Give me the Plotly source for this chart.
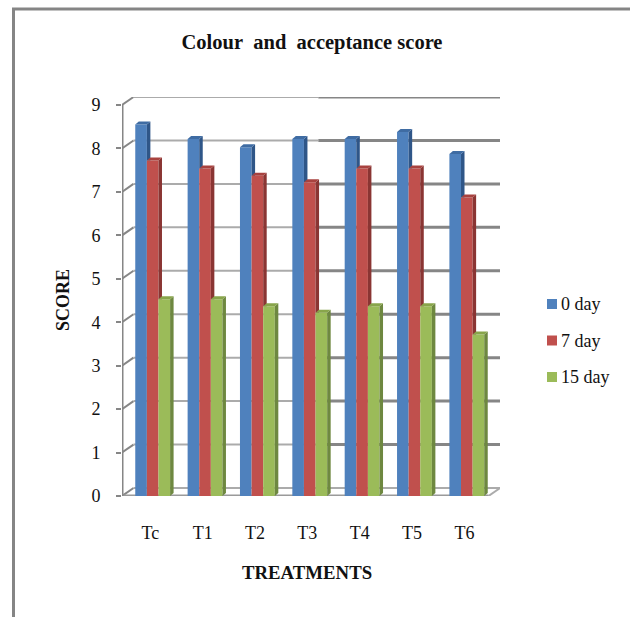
import plotly.graph_objects as go

categories = ['Tc', 'T1', 'T2', 'T3', 'T4', 'T5', 'T6']
day_0 = [8.55, 8.22, 8.03, 8.22, 8.22, 8.38, 7.87]
day_7 = [7.72, 7.54, 7.37, 7.22, 7.54, 7.54, 6.87]
day_15 = [4.53, 4.53, 4.37, 4.22, 4.37, 4.37, 3.72]
series_names = ['0 day', '7 day', '15 day']
score_ticks = [0, 1, 2, 3, 4, 5, 6, 7, 8, 9]

FONT = 'Liberation Serif'
GRID = '#868686'
FRONT = ['#4F81BD', '#C0504D', '#9BBB59']
SIDE = ['#2F5688', '#8A3533', '#6E8840']
TOP = ['#3F6CA3', '#A8423F', '#88A54B']

# pixel scale of the plot, used to express the fake 3d depth in data units
PX_X = 52.3
PX_Y = 43.5
WALL_DX = 11.5 / PX_X
WALL_DY = 8 / PX_Y
BAR_W = 11.6 / PX_X
BAR_DX = 3.5 / PX_X
BAR_DY = 3 / PX_Y
GROUP_SHIFT = 4.5 / PX_X

series = [day_0, day_7, day_15]
xpos = list(range(len(categories)))
fig = go.Figure()

# back wall, floor and axis lines sit behind the bars
shapes = []


def line(x0, y0, x1, y1, color=GRID, width=2):
    shapes.append(dict(type='line', xref='x', yref='y', x0=x0, y0=y0, x1=x1, y1=y1,
                       layer='below', line=dict(color=color, width=width)))


left = -0.5
right = len(categories) - 0.5
split = 3.25  # the grid looks fainter left of this point
for t in score_ticks:
    line(left, t, left + WALL_DX, t + WALL_DY)
    if t > 0:
        line(left + WALL_DX, t + WALL_DY, split, t + WALL_DY, '#ababab', 2)
        line(split, t + WALL_DY, right + WALL_DX, t + WALL_DY, GRID, 3)
line(left + WALL_DX, WALL_DY, right + WALL_DX, WALL_DY, '#ababab', 2)
line(right, 0, right + WALL_DX, WALL_DY, '#ababab', 2)
line(left, 0, right, 0, '#9a9a9a', 3)
line(left, 0, left, score_ticks[-1], GRID, 3)

# front faces
for s, values in enumerate(series):
    fig.add_trace(go.Bar(
        x=[i + GROUP_SHIFT + (s - 1) * BAR_W for i in xpos],
        y=values,
        width=BAR_W,
        name=series_names[s],
        marker=dict(color=FRONT[s], line=dict(width=0)),
        showlegend=False
    ))

# side and top faces; a side stops where the next series hides it
for s, values in enumerate(series):
    for i in xpos:
        x1 = i + GROUP_SHIFT + (s - 1) * BAR_W + BAR_W / 2
        x0 = x1 - BAR_W
        v = values[i]
        if s < 2:
            low = series[s + 1][i]
            side_y = [low, low, v + BAR_DY, v, low]
        else:
            side_y = [0, BAR_DY, v + BAR_DY, v, 0]
        fig.add_trace(go.Scatter(
            x=[x1, x1 + BAR_DX, x1 + BAR_DX, x1, x1],
            y=side_y,
            mode='lines', fill='toself', fillcolor=SIDE[s],
            line=dict(width=0), hoverinfo='skip', showlegend=False
        ))
        fig.add_trace(go.Scatter(
            x=[x0, x0 + BAR_DX, x1 + BAR_DX, x1, x0],
            y=[v, v + BAR_DY, v + BAR_DY, v, v],
            mode='lines', fill='toself', fillcolor=TOP[s],
            line=dict(width=0), hoverinfo='skip', showlegend=False
        ))

# legend drawn by hand so the swatch sits tight against its label
annotations = []
PLOT_L, PLOT_T, PLOT_W, PLOT_H = 122, 97, 378, 399


def px(x):
    return (x - PLOT_L) / PLOT_W


def py(y):
    return 1 - (y - PLOT_T) / PLOT_H


for s, name in enumerate(series_names):
    cy = 304 + s * 36.5
    shapes.append(dict(type='rect', xref='paper', yref='paper',
                       x0=px(547), x1=px(557), y0=py(cy - 5), y1=py(cy + 5),
                       fillcolor=FRONT[s], line=dict(width=0)))
    annotations.append(dict(xref='paper', yref='paper', x=px(559), y=py(cy), text=name,
                            xanchor='left', yanchor='middle', showarrow=False,
                            font=dict(family=FONT, size=18, color='#111111')))

# frame of the pasted chart, open on the right and at the bottom
for x0, y0, x1, y1 in [(13.5, 9, 13.5, 617), (12, 9, 630, 9)]:
    shapes.append(dict(type='line', xref='paper', yref='paper',
                       x0=px(x0), y0=py(y0), x1=px(x1), y1=py(y1),
                       line=dict(color='#858585', width=3)))
annotations.append(dict(xref='paper', yref='paper', x=px(63), y=py(300), text='SCORE',
                        textangle=-90, showarrow=False, xanchor='center', yanchor='middle',
                        font=dict(family=FONT, size=18, color='#111111', weight='bold')))
annotations.append(dict(xref='paper', yref='paper', x=px(307), y=py(572), text='TREATMENTS',
                        showarrow=False, xanchor='center', yanchor='middle',
                        font=dict(family=FONT, size=18.8, color='#111111', weight='bold')))

fig.update_layout(
    width=630,
    height=617,
    margin=dict(l=PLOT_L, t=PLOT_T, r=630 - PLOT_L - PLOT_W, b=617 - PLOT_T - PLOT_H, autoexpand=False),
    paper_bgcolor='white',
    plot_bgcolor='white',
    barmode='overlay',
    showlegend=False,
    title=dict(text='Colour\u00a0 and\u00a0 acceptance score', x=312 / 630, xanchor='center',
               y=1 - 42 / 617, yanchor='middle',
               font=dict(family=FONT, size=20.5, color='#111111', weight='bold')),
    shapes=shapes,
    annotations=annotations,
    xaxis=dict(
        range=[left, right + WALL_DX],
        tickmode='array', tickvals=[i + 0.04 for i in xpos], ticktext=categories,
        showgrid=False, zeroline=False, showline=False, ticks='',
        ticklabelstandoff=24,
        tickfont=dict(family=FONT, size=18, color='#111111')
    ),
    yaxis=dict(
        range=[0, score_ticks[-1] + WALL_DY],
        tickmode='array', tickvals=score_ticks,
        showgrid=False, zeroline=False, showline=False,
        ticks='outside', ticklen=5, tickwidth=2, tickcolor=GRID,
        ticklabelstandoff=12,
        tickfont=dict(family=FONT, size=18, color='#111111')
    )
)

fig.write_html("out.html", config=dict(displayModeBar=False),
               post_script="document.body.style.margin='0';")
